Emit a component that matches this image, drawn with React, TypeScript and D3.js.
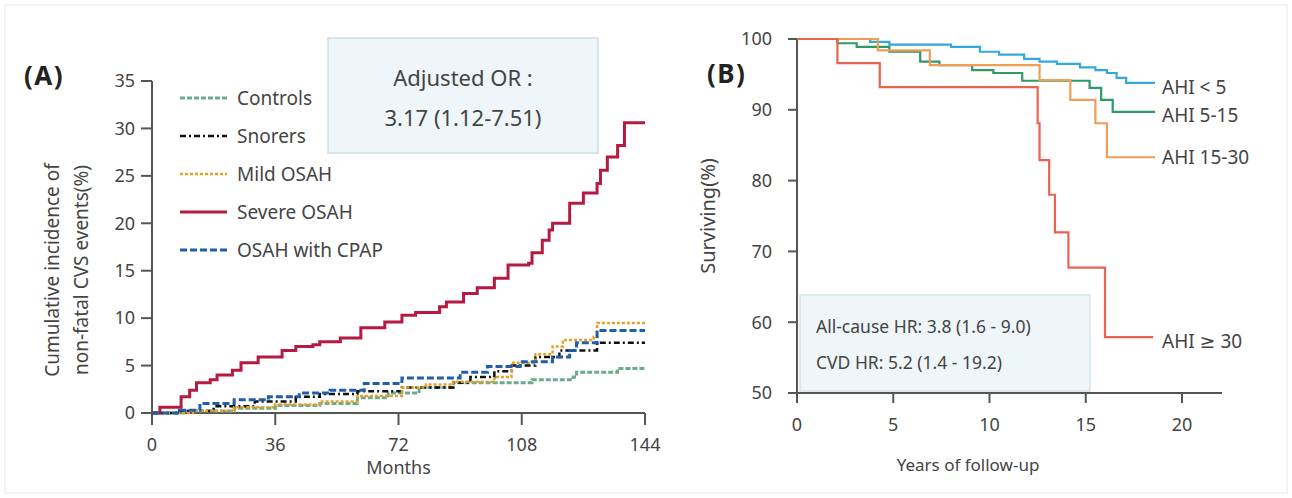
import React from "react";
import * as d3 from "d3";

// Panel A: cumulative incidence (%) by months
const monthTicks = [0, 36, 72, 108, 144];
const incidenceTicks = [0, 5, 10, 15, 20, 25, 30, 35];

const controls: [number, number][] = [
  [0, 0], [10, 0.2], [24, 0.5], [36, 0.8], [49, 1.0], [60, 1.6], [69, 2.1], [78, 2.7],
  [88, 3.2], [111, 3.5], [123, 3.8], [124, 4.3], [136, 4.7], [144, 4.7],
];
const snorers: [number, number][] = [
  [0, 0], [8, 0.2], [18, 0.7], [30, 1.2], [42, 1.7], [49, 2.0], [60, 2.3], [73, 2.7],
  [88, 3.2], [93, 3.8], [100, 4.4], [105, 5.0], [112, 5.9], [119, 6.6], [130, 7.4], [144, 7.4],
];
const mildOsah: [number, number][] = [
  [0, 0], [12, 0.2], [24, 0.6], [36, 0.9], [49, 1.2], [60, 1.8], [73, 2.7], [80, 3.0],
  [88, 3.3], [100, 3.8], [105, 5.3], [112, 6.2], [117, 7.0], [120, 7.7], [129, 8.0], [130, 9.5], [144, 9.5],
];
const severeOsah: [number, number][] = [
  [0, 0], [2.3, 0.6], [8.5, 1.7], [11, 2.4], [13, 3.2], [17, 3.5], [19, 4.0], [23.5, 4.5],
  [26, 5.3], [31, 5.9], [38, 6.6], [42, 7.0], [47, 7.2], [49, 7.5], [55, 7.9], [61, 9.0],
  [68, 9.6], [73, 10.3], [77, 10.6], [84, 11.2], [86, 11.7], [91, 12.6], [95, 13.2],
  [100, 14.2], [104, 15.6], [110, 15.8], [111, 16.9], [114, 18.2], [116, 19.3], [117, 20.0],
  [122, 22.1], [126, 23.2], [130, 24.2], [131, 25.6], [133, 27.0], [136, 28.2], [138, 30.6], [144, 30.6],
];
const osahCpap: [number, number][] = [
  [0, 0], [8, 0.3], [14, 1.0], [24, 1.4], [34, 1.7], [43, 2.1], [52, 2.4], [62, 3.1],
  [73, 3.7], [90, 4.3], [98, 4.9], [107.5, 5.4], [117, 5.9], [122, 6.6], [124, 7.4], [130, 8.7], [144, 8.7],
];

// Panel B: survival (%) by years
const yearTicks = [0, 5, 10, 15, 20];
const survTicks = [50, 60, 70, 80, 90, 100];

const ahiLt5: [number, number][] = [
  [0, 100], [3.8, 99.6], [4.8, 99.2], [8, 98.9], [9.5, 98.2], [10.5, 97.8], [11.8, 97.2],
  [12.6, 96.8], [13.5, 96.5], [14.7, 96.0], [15.5, 95.6], [16.1, 95.2], [16.6, 94.5], [17.1, 93.8], [18.6, 93.8],
];
const ahi5to15: [number, number][] = [
  [0, 100], [2.1, 99.4], [3.1, 98.9], [4.8, 98.2], [6.4, 96.8], [7.4, 96.3], [9.1, 95.6],
  [10.2, 95.2], [11.7, 94.1], [15.2, 93.1], [15.8, 91.4], [16.4, 89.7], [18.6, 89.7],
];
const ahi15to30: [number, number][] = [
  [0, 100], [4.2, 98.4], [6.9, 96.3], [12.6, 94.2], [14.2, 91.4], [15.5, 88.1], [16.1, 83.3], [18.6, 83.3],
];
const ahiGe30: [number, number][] = [
  [0, 100], [2.1, 96.6], [4.3, 93.2], [12.5, 88.1], [12.6, 82.9], [13.1, 78.0], [13.4, 72.7],
  [14.1, 67.7], [16.0, 57.9], [18.5, 57.9],
];

const seriesA = [
  { name: "Controls", data: controls, color: "#6aab8b", width: 3, dash: "5,2" },
  { name: "Snorers", data: snorers, color: "#111111", width: 2.5, dash: "6,3,2,3" },
  { name: "Mild OSAH", data: mildOsah, color: "#e6a126", width: 2.5, dash: "3,2" },
  { name: "Severe OSAH", data: severeOsah, color: "#b51a40", width: 3, dash: null },
  { name: "OSAH with CPAP", data: osahCpap, color: "#1f5ea8", width: 3, dash: "7,3" },
];

const seriesB = [
  { name: "AHI < 5", data: ahiLt5, color: "#35a8db", labelY: 87 },
  { name: "AHI 5-15", data: ahi5to15, color: "#2e9a68", labelY: 115 },
  { name: "AHI 15-30", data: ahi15to30, color: "#f09d55", labelY: 157 },
  { name: "AHI \u2265 30", data: ahiGe30, color: "#e8644f", labelY: 341 },
];

const font = "'Noto Sans', 'DejaVu Sans', sans-serif";
const txt = "#444";
const axisCol = "#555";

export default function App() {
  // Panel A scales
  const xA = d3.scaleLinear().domain([0, 144]).range([152, 645]);
  const yA = d3.scaleLinear().domain([0, 35]).range([413, 81]);
  const lineA = d3
    .line<[number, number]>()
    .x((d) => xA(d[0]))
    .y((d) => yA(d[1]))
    .curve(d3.curveStepAfter);

  // Panel B scales
  const xB = d3.scaleLinear().domain([0, 20]).range([797, 1182]);
  const yB = d3.scaleLinear().domain([50, 100]).range([393, 39]);
  const lineB = d3
    .line<[number, number]>()
    .x((d) => xB(d[0]))
    .y((d) => yB(d[1]))
    .curve(d3.curveStepAfter);

  return (
    <svg
      width={1292}
      height={498}
      style={{ position: "absolute", left: 0, top: 0, background: "#fff" }}
      fontFamily={font}
    >
      <rect x={5} y={5} width={1282} height={488} fill="none" stroke="#f0f0f0" strokeWidth={1.5} />

      {/* ---------- Panel A ---------- */}
      <text x={24} y={85} fontSize={26} fontWeight="bold" fill="#222" letterSpacing={1.5}>(A)</text>

      <rect x={328} y={38} width={270} height={115} fill="#eef6f9" stroke="#cbdde2" strokeWidth={1.5} />
      <text x={463} y={86} fontSize={22} fill={txt} textAnchor="middle">Adjusted OR :</text>
      <text x={463} y={126} fontSize={22} fill={txt} textAnchor="middle">3.17 (1.12-7.51)</text>

      {/* axes */}
      <line x1={xA(0)} x2={xA(0)} y1={yA(35)} y2={yA(0)} stroke={axisCol} strokeWidth={2} />
      <line x1={141} x2={xA(144)} y1={yA(0)} y2={yA(0)} stroke={axisCol} strokeWidth={2} />
      {incidenceTicks.map((t) => (
        <g key={t}>
          <line x1={141} x2={xA(0)} y1={yA(t)} y2={yA(t)} stroke={axisCol} strokeWidth={2} />
          <text x={135} y={yA(t)} dy="0.35em" fontSize={18} fill={txt} textAnchor="end">{t}</text>
        </g>
      ))}
      {monthTicks.map((t) => (
        <g key={t}>
          <line x1={xA(t)} x2={xA(t)} y1={yA(0)} y2={yA(0) + 12} stroke={axisCol} strokeWidth={2} />
          <text x={xA(t)} y={451} fontSize={18} fill={txt} textAnchor="middle">{t}</text>
        </g>
      ))}
      <text x={xA(72)} y={474} fontSize={18} fill={txt} textAnchor="middle">Months</text>
      <text transform="translate(52,270) rotate(-90)" dy="0.35em" fontSize={19} fill={txt} textAnchor="middle">
        Cumulative incidence of
      </text>
      <text transform="translate(81,270) rotate(-90)" dy="0.35em" fontSize={19} fill={txt} textAnchor="middle">
        non-fatal CVS events(%)
      </text>

      {/* curves */}
      {seriesA.map((s) => (
        <path
          key={s.name}
          d={lineA(s.data) || ""}
          fill="none"
          stroke={s.color}
          strokeWidth={s.width}
          strokeDasharray={s.dash || undefined}
        />
      ))}

      {/* legend */}
      {seriesA.map((s, i) => {
        const y = 98 + i * 38;
        return (
          <g key={s.name}>
            <line x1={180} x2={227} y1={y} y2={y} stroke={s.color} strokeWidth={s.width} strokeDasharray={s.dash || undefined} />
            <text x={237} y={y} dy="0.35em" fontSize={19} fill={txt}>{s.name}</text>
          </g>
        );
      })}

      {/* ---------- Panel B ---------- */}
      <text x={707} y={83} fontSize={26} fontWeight="bold" fill="#222" letterSpacing={1.5}>(B)</text>

      <rect x={800} y={295} width={290} height={96} fill="#eef6f9" stroke="#d3e4e8" strokeWidth={1.5} />
      <text x={816} y={333} fontSize={17.5} fill={txt}>All-cause HR: 3.8 (1.6 - 9.0)</text>
      <text x={816} y={369} fontSize={17.5} fill={txt}>CVD HR: 5.2 (1.4 - 19.2)</text>

      <line x1={xB(0)} x2={xB(0)} y1={yB(100)} y2={yB(50)} stroke={axisCol} strokeWidth={2} />
      <line x1={788} x2={1222} y1={yB(50)} y2={yB(50)} stroke={axisCol} strokeWidth={2} />
      {survTicks.map((t) => (
        <g key={t}>
          <line x1={788} x2={xB(0)} y1={yB(t)} y2={yB(t)} stroke={axisCol} strokeWidth={2} />
          <text x={772} y={yB(t)} dy="0.35em" fontSize={18} fill={txt} textAnchor="end">{t}</text>
        </g>
      ))}
      {yearTicks.map((t) => (
        <g key={t}>
          <line x1={xB(t)} x2={xB(t)} y1={yB(50)} y2={yB(50) + 10} stroke={axisCol} strokeWidth={2} />
          <text x={xB(t)} y={431} fontSize={18} fill={txt} textAnchor="middle">{t}</text>
        </g>
      ))}
      <text x={968} y={471} fontSize={17} fill={txt} textAnchor="middle">Years of follow-up</text>
      <text transform="translate(708,216) rotate(-90)" dy="0.35em" fontSize={20} fill={txt} textAnchor="middle">
        Surviving(%)
      </text>

      {seriesB.map((s) => (
        <g key={s.name}>
          <path d={lineB(s.data) || ""} fill="none" stroke={s.color} strokeWidth={2.2} />
          <text x={1162} y={s.labelY} dy="0.35em" fontSize={19} fill={txt}>{s.name}</text>
        </g>
      ))}
    </svg>
  );
}
